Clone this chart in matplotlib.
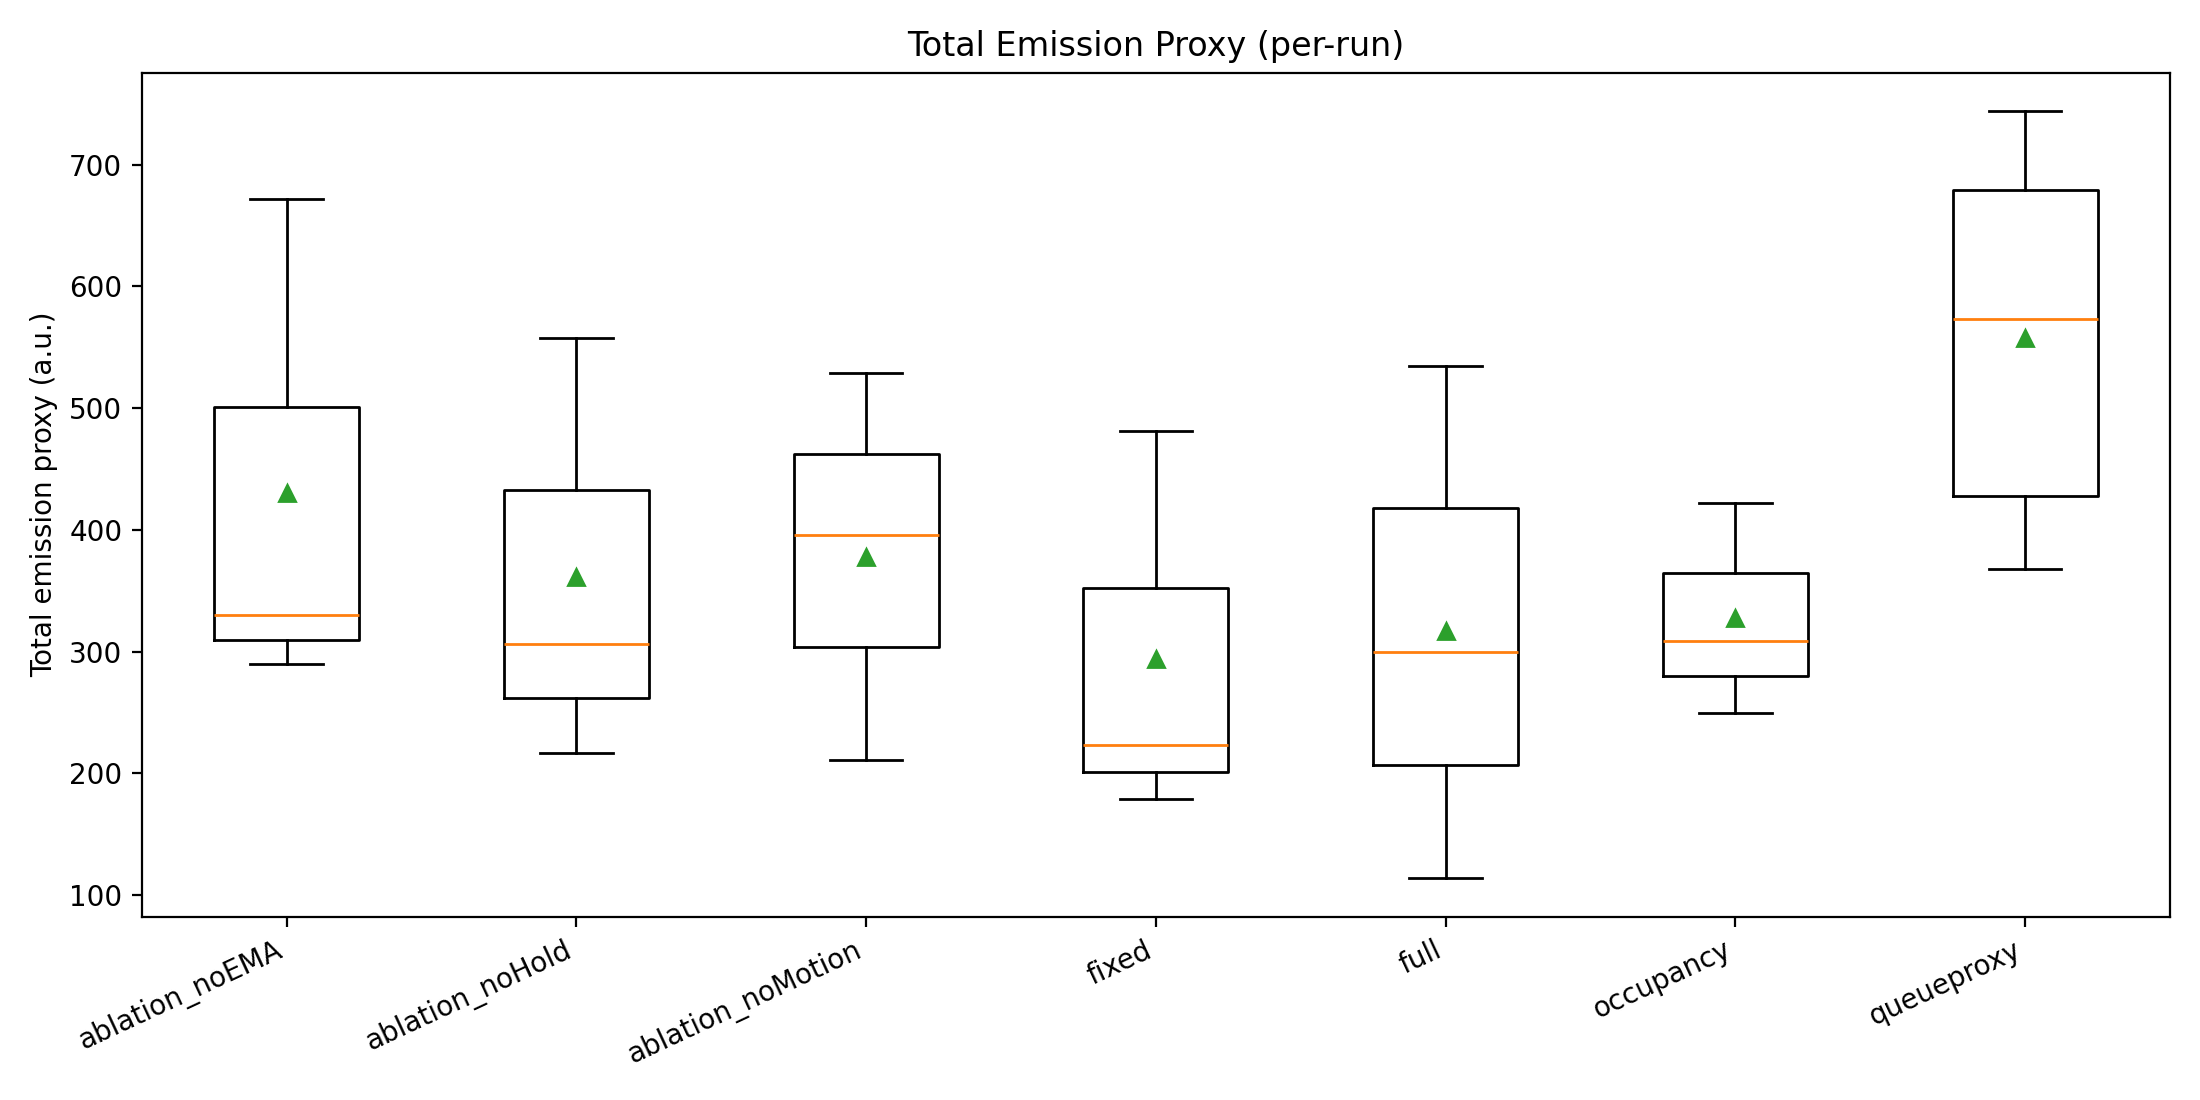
import matplotlib
matplotlib.use("Agg")
import matplotlib.pyplot as plt

methods = ["ablation_noEMA", "ablation_noHold", "ablation_noMotion", "fixed",
           "full", "occupancy", "queueproxy"]
whislo = [290, 217, 211, 179, 114, 250, 368]
q1 = [310, 262, 304, 201, 207, 280, 428]
med = [330, 306, 396, 223, 300, 309, 573]
q3 = [501, 433, 462, 352, 418, 365, 679]
whishi = [672, 558, 529, 481, 535, 422, 744]
means = [430, 361, 378, 294, 317, 328, 558]

stats = []
for i, m in enumerate(methods):
    stats.append({"label": m, "whislo": whislo[i], "q1": q1[i], "med": med[i],
                  "q3": q3[i], "whishi": whishi[i], "mean": means[i], "fliers": []})

fig, ax = plt.subplots(figsize=(11, 5.5), dpi=200)
ax.bxp(stats, showmeans=True)
ax.set_title("Total Emission Proxy (per-run)")
ax.set_ylabel("Total emission proxy (a.u.)")
plt.setp(ax.get_xticklabels(), rotation=25, ha="right")
fig.tight_layout()
fig.savefig("out.png")
